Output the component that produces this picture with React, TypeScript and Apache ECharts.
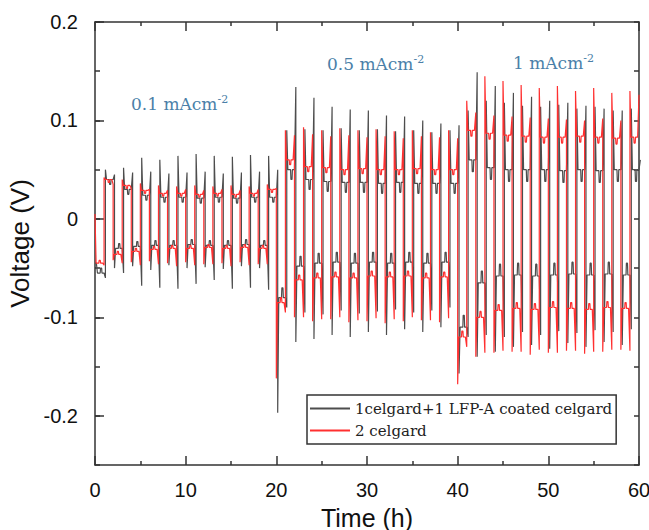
import React, { useEffect, useRef } from "react";
import * as echarts from "echarts";

// Per-cycle readings (cycle k: stripping half at t = 2k..2k+1, plating half at t = 2k+1..2k+2)
const timeTicks = [0, 10, 20, 30, 40, 50, 60];
const voltageTicks = [-0.2, -0.1, 0, 0.1, 0.2];

// 2 celgard (red)
const redNegHead = [0.005, -0.042, -0.044, -0.043, -0.045, -0.044, -0.046, -0.045, -0.044, -0.046, -0.162, -0.100, -0.104, -0.102, -0.105, -0.104, -0.106, -0.104, -0.103, -0.105, -0.168, -0.140, -0.136, -0.135, -0.138, -0.136, -0.134, -0.137, -0.135, -0.133];
const redNegLevel = [-0.045, -0.036, -0.033, -0.031, -0.030, -0.030, -0.029, -0.030, -0.029, -0.030, -0.085, -0.062, -0.060, -0.059, -0.060, -0.058, -0.059, -0.058, -0.060, -0.059, -0.120, -0.100, -0.093, -0.091, -0.092, -0.090, -0.091, -0.092, -0.090, -0.091];
const redNegEnd = [-0.047, -0.045, -0.047, -0.046, -0.048, -0.047, -0.046, -0.048, -0.047, -0.046, -0.095, -0.100, -0.102, -0.100, -0.103, -0.101, -0.102, -0.100, -0.103, -0.101, -0.130, -0.136, -0.134, -0.135, -0.133, -0.136, -0.134, -0.135, -0.133, -0.134];
const redPosHead = [0.042, 0.040, 0.036, 0.034, 0.033, 0.034, 0.033, 0.034, 0.033, 0.035, 0.090, 0.093, 0.090, 0.092, 0.090, 0.091, 0.089, 0.090, 0.088, 0.090, 0.120, 0.145, 0.140, 0.136, 0.133, 0.135, 0.130, 0.133, 0.128, 0.130];
const redPosLevel = [0.040, 0.034, 0.029, 0.026, 0.026, 0.025, 0.026, 0.025, 0.026, 0.030, 0.060, 0.053, 0.052, 0.050, 0.051, 0.050, 0.050, 0.051, 0.050, 0.050, 0.090, 0.087, 0.085, 0.084, 0.083, 0.083, 0.084, 0.083, 0.082, 0.083];
const redPosEnd = [0.035, 0.031, 0.030, 0.029, 0.030, 0.029, 0.030, 0.029, 0.030, 0.031, 0.085, 0.086, 0.084, 0.085, 0.083, 0.084, 0.082, 0.084, 0.083, 0.082, 0.108, 0.105, 0.104, 0.103, 0.102, 0.101, 0.100, 0.102, 0.100, 0.126];
const redBump = [0.003, 0.005, 0.006];

// 1celgard+1 LFP-A coated celgard (grey)
const greyNegHead = [-0.045, -0.050, -0.048, -0.052, -0.047, -0.050, -0.049, -0.051, -0.048, -0.050, -0.197, -0.125, -0.122, -0.118, -0.120, -0.115, -0.118, -0.112, -0.115, -0.110, -0.157, -0.140, -0.135, -0.130, -0.128, -0.132, -0.126, -0.130, -0.125, -0.128];
const greyNegLevel = [-0.055, -0.030, -0.028, -0.027, -0.027, -0.026, -0.027, -0.027, -0.026, -0.027, -0.080, -0.048, -0.045, -0.044, -0.045, -0.044, -0.045, -0.044, -0.045, -0.044, -0.110, -0.065, -0.058, -0.057, -0.058, -0.057, -0.056, -0.057, -0.056, -0.057];
const greyNegEnd = [-0.060, -0.055, -0.068, -0.070, -0.071, -0.066, -0.062, -0.071, -0.070, -0.072, -0.090, -0.095, -0.097, -0.093, -0.096, -0.094, -0.092, -0.095, -0.093, -0.090, -0.120, -0.118, -0.120, -0.115, -0.118, -0.114, -0.116, -0.113, -0.115, -0.112];
const greyPosHead = [0.050, 0.052, 0.062, 0.060, 0.064, 0.066, 0.064, 0.063, 0.065, 0.064, 0.090, 0.091, 0.090, 0.092, 0.090, 0.091, 0.089, 0.090, 0.088, 0.090, 0.110, 0.120, 0.118, 0.115, 0.114, 0.116, 0.112, 0.114, 0.110, 0.112];
const greyPosLevel = [0.040, 0.030, 0.024, 0.022, 0.022, 0.021, 0.022, 0.021, 0.022, 0.022, 0.050, 0.040, 0.038, 0.037, 0.037, 0.036, 0.037, 0.036, 0.036, 0.036, 0.060, 0.052, 0.050, 0.050, 0.050, 0.049, 0.050, 0.049, 0.050, 0.050];
const greyPosEnd = [0.045, 0.047, 0.048, 0.046, 0.047, 0.048, 0.046, 0.047, 0.048, 0.050, 0.134, 0.123, 0.114, 0.111, 0.110, 0.105, 0.104, 0.100, 0.097, 0.095, 0.149, 0.135, 0.128, 0.124, 0.120, 0.118, 0.115, 0.112, 0.110, 0.060];
const greyBump = [0.005, 0.010, 0.012];
const greyLag = 0.15;

const seriesNames = ["1celgard+1 LFP-A coated celgard", "2 celgard"];
const currentLabels = ["0.1 mAcm", "0.5 mAcm", "1 mAcm"];

function buildTrace(
  negH: number[], negP: number[], negE: number[],
  posH: number[], posP: number[], posE: number[],
  bump: number[], lag: number
): number[][] {
  const pts: number[][] = [[0, negH[0]]];
  for (let k = 0; k < negH.length; k++) {
    const phase = Math.floor(k / 10);
    const halves: [number, number, number, number, number][] = [
      [2 * k, negH[k], negP[k], negE[k], -1],
      [2 * k + 1, posH[k], posP[k], posE[k], 1],
    ];
    for (const [s, h, p, e, sign] of halves) {
      const t0 = s + lag;
      const d = p - sign * bump[phase];
      pts.push([t0, h], [t0 + 0.12, p], [t0 + 0.42, p], [t0 + 0.46, d], [t0 + 0.58, d], [t0 + 0.62, p], [t0 + 0.85, p], [t0 + 1, e]);
    }
  }
  return pts;
}

const AXIS = "#333333";
const LABEL_FONT = "'Liberation Sans', Arial, sans-serif";
const SERIF = "'DejaVu Serif', serif";
const NOTE = "#4a7fa8";

export default function App() {
  const ref = useRef<HTMLDivElement>(null);
  useEffect(() => {
    if (!ref.current) return;
    const chart = echarts.init(ref.current, null, { renderer: "svg" });
    const greyData = buildTrace(greyNegHead, greyNegLevel, greyNegEnd, greyPosHead, greyPosLevel, greyPosEnd, greyBump, greyLag);
    const redData = buildTrace(redNegHead, redNegLevel, redNegEnd, redPosHead, redPosLevel, redPosEnd, redBump, 0);
    const fmt = (v: number) => {
      if (Math.abs(v * 10 - Math.round(v * 10)) > 1e-6) return "";
      if (Math.abs(v) < 1e-9) return "0";
      return String(Math.round(v * 10) / 10);
    };
    const xBase = {
      type: "value" as const,
      min: timeTicks[0],
      max: timeTicks[timeTicks.length - 1],
      interval: timeTicks[1] - timeTicks[0],
      axisLine: { show: true, onZero: false, lineStyle: { color: AXIS, width: 1.5 } },
      axisTick: { show: true, inside: true, length: 9, lineStyle: { color: AXIS, width: 1.5 } },
      minorTick: { show: true, splitNumber: 2, length: 4, lineStyle: { color: AXIS, width: 1.5 } },
      splitLine: { show: false },
      minorSplitLine: { show: false },
    };
    const yBase = {
      type: "value" as const,
      min: -0.25,
      max: 0.2,
      interval: 0.05,
      splitLine: { show: false },
    };
    const note = (text: string, x: number, y: number) => ({
      type: "text",
      x,
      y,
      style: {
        text: `{a|${text}}{s|-2}`,
        verticalAlign: "middle",
        rich: {
          a: { fontFamily: SERIF, fontSize: 17, fill: NOTE, lineHeight: 20 },
          s: { fontFamily: SERIF, fontSize: 11, fill: NOTE, verticalAlign: "top", lineHeight: 20 },
        },
      },
    });
    chart.setOption({
      animation: false,
      backgroundColor: "#ffffff",
      grid: { left: 95, top: 22, width: 544, height: 443, containLabel: false, outerBoundsMode: "none" },
      xAxis: [
        {
          ...xBase,
          position: "bottom",
          axisLabel: { fontSize: 20, margin: 15, color: "#111", fontFamily: LABEL_FONT },
          name: "Time (h)",
          nameLocation: "middle",
          nameGap: 40,
          nameTextStyle: { fontSize: 25, lineHeight: 25, color: "#111", fontFamily: LABEL_FONT },
        },
        { ...xBase, position: "top", axisLabel: { show: false } },
      ],
      yAxis: [
        {
          ...yBase,
          position: "left",
          axisLine: { show: true, onZero: false, lineStyle: { color: AXIS, width: 1.5 } },
          axisTick: { show: true, inside: true, length: 9, customValues: voltageTicks, lineStyle: { color: AXIS, width: 1.5 } },
          axisLabel: { fontSize: 20, margin: 17, color: "#111", fontFamily: LABEL_FONT, customValues: voltageTicks, formatter: fmt },
          name: "Voltage (V)",
          nameLocation: "middle",
          nameGap: 57,
          nameTextStyle: { fontSize: 26, lineHeight: 26, color: "#111", fontFamily: LABEL_FONT },
        },
        {
          ...yBase,
          position: "left",
          axisLine: { show: false },
          axisTick: { show: true, inside: true, length: 5, lineStyle: { color: AXIS, width: 1.5 } },
          axisLabel: { show: false },
        },
        {
          ...yBase,
          position: "right",
          axisLine: { show: true, onZero: false, lineStyle: { color: AXIS, width: 1.5 } },
          axisTick: { show: true, inside: true, length: 5, lineStyle: { color: AXIS, width: 1.5 } },
          axisLabel: { show: false },
        },
      ],
      legend: {
        orient: "vertical",
        left: 307,
        top: 395,
        padding: [6, 4, 6, 3],
        itemGap: 7,
        itemWidth: 40,
        itemHeight: 2,
        icon: "rect",
        borderColor: AXIS,
        borderWidth: 1.5,
        backgroundColor: "#ffffff",
        textStyle: { fontFamily: "DejaVu Serif", fontSize: 15, color: "#222" },
        data: seriesNames,
      },
      series: [
        {
          name: seriesNames[0],
          type: "line",
          data: greyData,
          showSymbol: false,
          symbol: "none",
          lineStyle: { color: "#4d4d4d", width: 1.2 },
          itemStyle: { color: "#4d4d4d" },
          clip: true,
          z: 2,
        },
        {
          name: seriesNames[1],
          type: "line",
          data: redData,
          showSymbol: false,
          symbol: "none",
          lineStyle: { color: "#ff3030", width: 1.2 },
          itemStyle: { color: "#ff3030" },
          clip: true,
          z: 3,
        },
      ],
      graphic: [note(currentLabels[0], 131, 104), note(currentLabels[1], 327, 64), note(currentLabels[2], 513, 63)],
    });
    return () => chart.dispose();
  }, []);
  return <div ref={ref} style={{ position: "fixed", left: 0, top: 0, width: 649, height: 530 }} />;
}
